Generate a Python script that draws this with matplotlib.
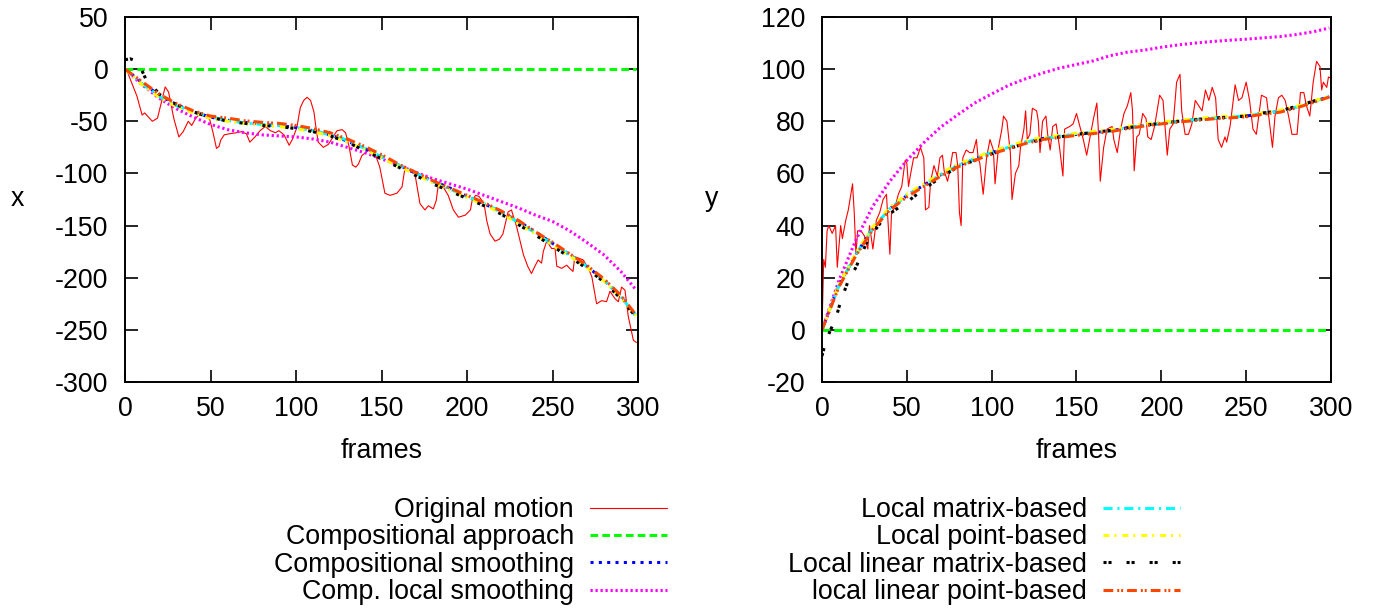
import matplotlib
matplotlib.use("Agg")
import matplotlib.pyplot as plt

plt.rcParams["font.family"] = ["Liberation Sans", "DejaVu Sans"]
plt.rcParams["lines.scale_dashes"] = False
plt.rcParams["axes.unicode_minus"] = False

FS = 19.3

# === Data ===

# Original motion, x component
orig_x_frames = [0, 1, 7, 10, 11.5, 16, 19, 23.5, 25.5, 28.5, 31.5, 34, 37, 39, 41, 43, 46, 49.5,
                 51.5, 53.5, 55, 56, 58, 61, 65, 68, 71, 73, 76, 79, 82, 85, 88, 90, 93, 96, 98,
                 100.5, 102.5, 104.5, 106.5, 108.5, 110.5, 111.5, 113, 116, 119, 122, 124, 127,
                 129, 131, 133, 135, 136.5, 138.5, 142, 146, 149, 152, 155, 159, 162, 163.7,
                 166.6, 169.6, 172.5, 175.4, 177.4, 180.3, 182, 183.3, 185, 189, 192, 195, 199,
                 202, 203, 205, 207, 210, 211.5, 213.5, 216.4, 219, 221, 224, 226, 229, 233,
                 235.5, 237.7, 239.7, 241.6, 243.6, 244.6, 246.6, 249.5, 251.5, 252.5, 255.4,
                 258.3, 260, 262, 263, 265, 268, 271, 273, 275.8, 278.7, 281.6, 283.6, 286.5,
                 288.5, 290.4, 292.4, 294.3, 297.3, 299]
orig_x = [0, -1, -26, -44, -42, -50, -47, -17, -22, -47, -65, -60, -50, -54, -48, -44, -45, -48,
          -61, -76, -74, -68, -63, -62, -61, -60, -62, -70, -65, -59, -55, -59, -61, -59, -63, -73,
          -67, -56, -37, -30, -27, -30, -41, -54, -70, -75, -72, -64, -59, -58,
          -61, -74, -92, -94, -91, -83, -78, -80, -94, -119, -121, -119, -113, -95,
          -97, -101, -129, -135, -131, -134, -126, -110, -110, -121, -135, -142, -140,
          -135, -126, -121, -122, -129, -145, -158, -165, -163, -158, -137, -135, -151, -178,
          -189, -196, -189, -183, -186, -175, -165, -172, -172, -189, -191,
          -188, -191, -194, -180, -181, -183, -191, -199, -225, -222, -223, -213, -220,
          -223, -209, -212, -237, -260, -262]

# Original motion, y component
orig_y_frames = [0, 1, 2, 3, 4, 6, 8, 9, 11, 12, 14, 15.5, 18, 19, 20, 21, 23, 25, 27, 28, 30,
                 32, 34, 36, 38, 40, 41, 43, 45, 47, 49, 50, 51, 52, 54, 56, 58, 60, 61, 63, 64,
                 66, 68, 69.5, 71, 72, 74, 75, 77, 79, 80, 81, 82, 83, 85, 87, 89, 91, 92, 93,
                 95, 97, 99, 101, 102, 104, 106, 107, 109, 111, 112, 114, 116, 117, 119, 120,
                 121, 122.5, 124, 126.5, 127.5, 128.5, 130, 132, 133, 134.5, 136, 138, 140, 142,
                 143, 146, 148, 150, 152, 154, 156, 158, 160, 162, 163, 164, 166, 168, 171, 172,
                 174, 176, 178, 180, 182, 183, 184, 185.5, 187, 189, 191, 192, 194, 196, 199,
                 201, 203.5, 205, 207, 209, 211, 212, 214, 216, 218, 220, 222, 224, 226, 228,
                 230, 232, 233.5, 235.5, 237.5, 238.5, 240.5, 243.5, 245.5, 247.5, 250, 252,
                 254, 256, 259, 262, 264, 265.5, 267, 269, 271, 273, 275, 277, 280, 282, 284,
                 285.5, 287.5, 289.5, 291.5, 293.5, 294.5, 295.5, 297.5, 298.5, 300]
orig_y = [0, 27, 24, 38, 40, 37, 40, 24, 40, 35, 42, 46, 56, 45, 29, 38, 38, 36, 31, 40, 31,
          42, 45, 50, 52, 29, 45, 47, 52, 55, 65, 64, 55, 59, 66, 66, 70, 66, 46, 47, 57,
          63, 59, 66, 67, 61, 57, 60, 68, 68, 63, 45, 40, 66, 69, 68, 68, 73, 66, 64,
          52, 66, 73, 69, 56, 70, 77, 82, 80, 68, 50, 60, 63, 70, 77, 84,
          73, 75, 85, 84, 80, 68, 80, 82, 75, 69, 78, 79, 70, 59,
          77, 78, 79, 83, 78, 73, 67, 74, 81, 87, 75, 57, 70, 77, 78, 73,
          68, 77, 83, 86, 91, 84, 61, 74, 75, 83, 81, 74, 73, 78, 90,
          88, 67, 77, 79, 95, 98, 84, 75, 75, 79, 88, 86, 84, 92, 88,
          93, 89, 73, 70, 74, 72, 78, 94, 88, 89, 95, 88,
          77, 75, 90, 89, 78, 70, 82, 89, 90, 88, 82, 75, 75, 91, 91,
          86, 82, 95, 103, 101, 92, 95, 93, 97, 96.5]

smooth_frames = [0, 10, 20, 30, 40, 50, 60, 70, 80, 90, 100, 110, 120, 130, 140, 150, 160,
                 170, 180, 190, 200, 210, 220, 230, 240, 250, 260, 270, 280, 290, 299]

# x component
comp_frames = [0, 299]
comp_x = [0, 0]
comp_smooth_x = [0, -13, -25, -34, -41, -46, -49, -51, -53, -54, -56, -59, -63, -69, -76, -84,
                 -92, -100, -107, -114, -122, -129, -137, -146, -156, -167, -178, -189, -202,
                 -218, -237]
comp_local_x = [0, -15, -28, -38, -46, -53, -58, -61, -63, -64, -65, -67, -70, -75, -80, -86,
                -92, -99, -105, -110, -115, -121, -127, -133, -140, -146, -155, -166, -178,
                -194, -212]
local_matrix_x = [0, -14, -26, -35, -41, -46, -49, -51.5, -53, -54, -56, -59, -63, -68, -76,
                  -84, -92, -100, -108, -115, -122, -129, -137, -147, -157, -168, -178, -189,
                  -202, -218, -237]
local_point_x = [0, -15, -27, -36, -42, -47, -50, -52, -54, -55, -57, -60, -64, -70, -77, -85,
                 -93, -101, -109, -116, -123, -130, -138, -148, -158, -169, -179, -190, -203,
                 -219, -237]
lin_matrix_x_frames = [0, 3, 6, 9, 12, 16, 20, 30, 40, 50, 60, 70, 80, 90, 100, 110, 120, 130,
                       140, 150, 160, 170, 180, 190, 200, 210, 220, 230, 240, 250, 260, 270,
                       280, 290, 299]
lin_matrix_x = [9, 10, 8, 2, -9, -16, -24, -34, -41, -46, -50, -52, -54, -55, -57, -60, -64,
                -70, -78, -86, -94, -102, -110, -117, -124, -131, -139, -149, -159, -170,
                -180, -191, -204, -220, -238]
lin_point_x = [0, -12, -24, -33, -40, -45, -47, -49.5, -51, -52, -54, -57, -61, -67, -74, -82,
               -91, -99, -107, -114, -121, -128, -136, -145, -156, -166, -177, -188, -201,
               -217, -236]

# y component
comp_y = [0, 0]
comp_smooth_y = [0, 17.5, 29, 39, 46.5, 51.5, 55.5, 59.5, 63, 65.5, 68, 70, 72, 73.4, 74.2, 75,
                 75.7, 76.3, 77.5, 78.5, 79.2, 80, 80.6, 81.2, 81.6, 82, 83, 83.8, 85.5, 87.6,
                 89.5]
comp_local_y = [0, 19, 34.5, 47.5, 57, 65, 71.8, 77.8, 82.5, 87, 90.5, 93.8, 96.3, 98.5, 100.4,
                101.8, 103.2, 105.2, 106.5, 107.3, 108.4, 109.3, 110, 110.6, 111.1, 111.5, 112,
                112.5, 113.3, 114.4, 115.8]
local_matrix_y = [0, 17, 29, 39, 46.5, 51.5, 55.5, 59.5, 63, 65.5, 68, 70, 72, 73.4, 74.2, 75,
                  75.7, 76.3, 77.5, 78.5, 79.2, 80, 80.6, 81.2, 81.6, 82, 83, 83.8, 85.5, 87.6,
                  89.5]
local_point_y = [0, 17.5, 29.5, 39.5, 47, 52, 56, 60, 63.5, 66, 68.5, 70.5, 72.5, 73.8, 74.6,
                 75.4, 76.1, 76.8, 78, 79, 79.7, 80.4, 81, 81.6, 82, 82.4, 83.3, 84.2, 85.8,
                 87.8, 89.7]
lin_matrix_y_frames = [0, 2, 5, 8, 11, 15, 20, 27, 35, 42, 50, 60, 70, 80, 90, 100, 110, 120,
                       130, 140, 150, 160, 170, 180, 190, 200, 210, 220, 230, 240, 250, 260,
                       270, 280, 290, 299]
lin_matrix_y = [-10, -5, 0, 4, 11, 18, 24, 34.5, 41.5, 45.5, 49, 54, 58.5, 62.5, 65, 67.5, 69.5,
                71.5, 73, 74, 75, 75.7, 76.5, 77.5, 78.5, 79.2, 80, 80.6, 81.2, 81.6, 82, 83.2,
                84, 85.8, 87.8, 89.8]
lin_point_y = [0, 16.5, 28.5, 38.5, 46, 51, 55, 59, 62.5, 65, 67.5, 69.5, 71.5, 73, 73.8, 74.6,
               75.3, 76, 77.2, 78.2, 79, 79.7, 80.3, 80.9, 81.3, 81.7, 82.7, 83.5, 85.2, 87.3,
               89.3]

labels = ["Original motion", "Compositional approach", "Compositional smoothing",
          "Comp. local smoothing", "Local matrix-based", "Local point-based",
          "Local linear matrix-based", "local linear point-based"]

# colour, linewidth, dash pattern (points)
styles = [
    ("#ff0000", 0.8, None),
    ("#00ff00", 2.2, (5.5, 3.0)),
    ("#0000ff", 2.2, (2.2, 3.8)),
    ("#ff00ff", 2.2, (1.6, 2.0)),
    ("#00ffff", 2.2, (6.5, 3.5, 1.5, 3.5)),
    ("#ffff00", 2.2, (4.3, 3.6, 1.4, 4.3)),
    ("#000000", 2.2, (2.2, 1.4, 2.2, 10.8)),
    ("#ff4500", 2.2, (7.0, 2.9, 1.4, 1.4, 1.4, 2.9)),
]

series_x = [(orig_x_frames, orig_x), (comp_frames, comp_x), (smooth_frames, comp_smooth_x),
            (smooth_frames, comp_local_x), (smooth_frames, local_matrix_x),
            (smooth_frames, local_point_x), (lin_matrix_x_frames, lin_matrix_x),
            (smooth_frames, lin_point_x)]
series_y = [(orig_y_frames, orig_y), (comp_frames, comp_y), (smooth_frames, comp_smooth_y),
            (smooth_frames, comp_local_y), (smooth_frames, local_matrix_y),
            (smooth_frames, local_point_y), (lin_matrix_y_frames, lin_matrix_y),
            (smooth_frames, lin_point_y)]

W, H = 1376, 608
fig = plt.figure(figsize=(W / 100, H / 100), dpi=100)
ax1 = fig.add_axes([125 / W, 1 - 382 / H, 513 / W, 365 / H])
ax2 = fig.add_axes([822 / W, 1 - 382 / H, 509 / W, 365 / H])


def draw(ax, series):
    handles = []
    for (f, v), (col, lw, dash), lab in zip(series, styles, labels):
        if dash is None:
            ln, = ax.plot(f, v, color=col, lw=lw, label=lab)
        else:
            ln, = ax.plot(f, v, color=col, lw=lw, label=lab, dashes=dash)
        handles.append(ln)
    ax.set_xlim(0, 300)
    ax.set_xticks([0, 50, 100, 150, 200, 250, 300])
    ax.tick_params(direction="in", length=9, width=1.2, top=True, right=True,
                   labelsize=FS)
    ax.tick_params(axis="x", pad=10)
    ax.tick_params(axis="y", pad=12)
    for sp in ax.spines.values():
        sp.set_linewidth(1.4)
    ax.set_xlabel("frames", fontsize=FS)
    ax.xaxis.set_label_coords(0.5, -(451 - 382) / 365)
    ax.xaxis.label.set_va("center")
    return handles


h1 = draw(ax1, series_x)
ax1.set_ylim(-300, 50)
ax1.set_yticks(list(range(-300, 51, 50)))
ax1.set_ylabel("x", fontsize=FS, rotation=0, va="center", ha="center")
ax1.yaxis.set_label_coords(-108 / 513, 0.5)

h2 = draw(ax2, series_y)
ax2.set_ylim(-20, 120)
ax2.set_yticks(list(range(-20, 121, 20)))
ax2.set_ylabel("y", fontsize=FS, rotation=0, va="center", ha="center")
ax2.yaxis.set_label_coords(-110 / 509, 0.5)

leg_kw = dict(loc="upper right", markerfirst=False, frameon=False, fontsize=FS,
              handlelength=2.87, handletextpad=0.6, labelspacing=0.05, borderpad=0,
              borderaxespad=0)
fig.legend(handles=h1[:4], labels=labels[:4], bbox_to_anchor=(667 / W, 1 - 497 / H), **leg_kw)
fig.legend(handles=h1[4:], labels=labels[4:], bbox_to_anchor=(1180 / W, 1 - 497 / H), **leg_kw)

fig.savefig("out.png", dpi=100)
